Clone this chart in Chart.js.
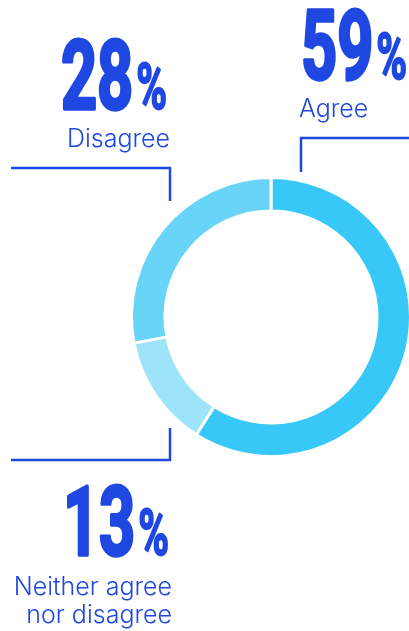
<!DOCTYPE html>
<html>
<head>
<meta charset="utf-8">
<script src="https://cdn.jsdelivr.net/npm/chart.js@4/dist/chart.umd.min.js"></script>
<style>
  html, body { margin: 0; padding: 0; background: #fff; overflow: hidden; }
  #wrap { position: relative; width: 420px; height: 631px; }
</style>
</head>
<body>
<div id="wrap"><canvas id="survey"></canvas></div>
<script>
// survey answers, clockwise from 12 o'clock
const categories = ['Agree', 'Neither agree nor disagree', 'Disagree'];
const labelLines = [['Agree'], ['Neither agree', 'nor disagree'], ['Disagree']];
const shares = [59, 13, 28];
const sliceColors = ['#37c8f8', '#9de3fa', '#67d4f8'];

const ink = '#1f48e2';

// callout boxes: where the big number + caption sit, and the bracket line
const callouts = [
    { align: 'left',  x: 301, numBase: 79,  capBase: 117, line: [[301, 172], [301, 138], [420, 138]] },
    { align: 'right', x: 169, numBase: 555, capBase: 595, line: [[170, 428], [170, 460], [11, 460]] },
    { align: 'right', x: 167, numBase: 109, capBase: 147, line: [[11, 168], [170, 168], [170, 201]] }
];

function bigNumber(ctx, value, x, base, align) {
    const digits = String(value), sx = 0.65;
    ctx.save();
    ctx.font = 'bold 97px Roboto';
    const dw = ctx.measureText(digits).width * sx;
    ctx.font = 'bold 64px Roboto';
    const pw = ctx.measureText('%').width * sx;
    const gap = 3;
    let left = align === 'left' ? x : x - dw - gap - pw;

    ctx.fillStyle = ink;
    ctx.strokeStyle = ink;
    ctx.lineJoin = 'round';
    ctx.textBaseline = 'alphabetic';
    ctx.textAlign = 'left';

    ctx.save();
    ctx.translate(left, base);
    ctx.scale(sx, 1);
    ctx.font = 'bold 97px Roboto';
    ctx.lineWidth = 3.5;
    ctx.fillText(digits, 0, 0);
    ctx.strokeText(digits, 0, 0);
    ctx.restore();

    ctx.save();
    ctx.translate(left + dw + gap, base);
    ctx.scale(sx, 1);
    ctx.font = 'bold 64px Roboto';
    ctx.lineWidth = 2;
    ctx.fillText('%', 0, 0);
    ctx.strokeText('%', 0, 0);
    ctx.restore();
    ctx.restore();
}

const calloutPlugin = {
    id: 'callouts',
    afterDraw(chart) {
        const ctx = chart.ctx;
        const values = chart.data.datasets[0].data;
        chart.data.labels.forEach((lines, i) => {
            const c = callouts[i];

            ctx.save();
            ctx.strokeStyle = ink;
            ctx.lineWidth = 2.5;
            ctx.beginPath();
            c.line.forEach(([px, py], k) => k ? ctx.lineTo(px, py) : ctx.moveTo(px, py));
            ctx.stroke();
            ctx.restore();

            bigNumber(ctx, values[i], c.x, c.numBase, c.align);

            ctx.save();
            ctx.fillStyle = ink;
            ctx.font = '300 25px Inter';
            ctx.textAlign = c.align;
            lines.forEach((t, k) => ctx.fillText(t, c.align === 'left' ? c.x - 2 : c.x + 3, c.capBase + k * 28));
            ctx.restore();
        });
    }
};

new Chart(document.getElementById('survey'), {
    type: 'doughnut',
    plugins: [calloutPlugin],
    data: {
        labels: labelLines,
        datasets: [{
            data: shares,
            backgroundColor: sliceColors,
            borderColor: '#ffffff',
            borderWidth: 3
        }]
    },
    options: {
        responsive: true,
        maintainAspectRatio: false,
        animation: false,
        cutout: '76%',
        layout: { padding: { left: 130, right: 8, top: 176, bottom: 173 } },
        plugins: {
            legend: { display: false },
            tooltip: { enabled: false }
        }
    }
});
</script>
</body>
</html>
